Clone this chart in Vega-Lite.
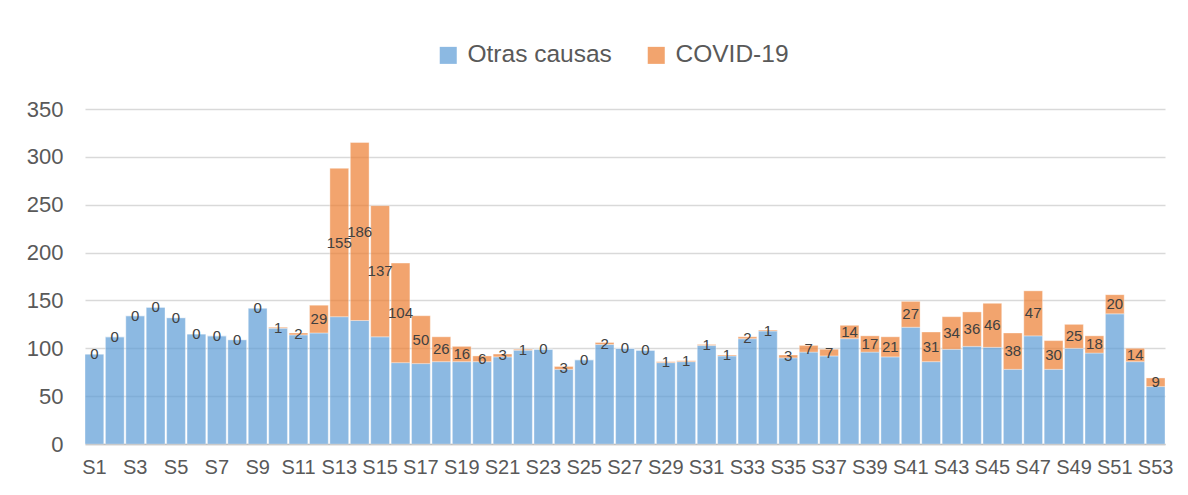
{
  "$schema": "https://vega.github.io/schema/vega-lite/v6.json",
  "width": 1080,
  "height": 335,
  "autosize": {"type": "none"},
  "padding": {"left": 85, "top": 109, "right": 23, "bottom": 51},
  "background": "white",
  "config": {
    "font": "Liberation Sans",
    "view": {"stroke": null},
    "axis": {"labelColor": "#595959", "titleColor": "#595959"}
  },
  "data": {
    "values": [
      {"semana": "S1", "Otras causas": 94, "COVID-19": 0},
      {"semana": "S2", "Otras causas": 112, "COVID-19": 0},
      {"semana": "S3", "Otras causas": 134, "COVID-19": 0},
      {"semana": "S4", "Otras causas": 143, "COVID-19": 0},
      {"semana": "S5", "Otras causas": 132, "COVID-19": 0},
      {"semana": "S6", "Otras causas": 115, "COVID-19": 0},
      {"semana": "S7", "Otras causas": 113, "COVID-19": 0},
      {"semana": "S8", "Otras causas": 109, "COVID-19": 0},
      {"semana": "S9", "Otras causas": 142, "COVID-19": 0},
      {"semana": "S10", "Otras causas": 121, "COVID-19": 1},
      {"semana": "S11", "Otras causas": 114, "COVID-19": 2},
      {"semana": "S12", "Otras causas": 116, "COVID-19": 29},
      {"semana": "S13", "Otras causas": 133, "COVID-19": 155},
      {"semana": "S14", "Otras causas": 129, "COVID-19": 186},
      {"semana": "S15", "Otras causas": 112, "COVID-19": 137},
      {"semana": "S16", "Otras causas": 85, "COVID-19": 104},
      {"semana": "S17", "Otras causas": 84, "COVID-19": 50},
      {"semana": "S18", "Otras causas": 86, "COVID-19": 26},
      {"semana": "S19", "Otras causas": 86, "COVID-19": 16},
      {"semana": "S20", "Otras causas": 86, "COVID-19": 6},
      {"semana": "S21", "Otras causas": 91, "COVID-19": 3},
      {"semana": "S22", "Otras causas": 98, "COVID-19": 1},
      {"semana": "S23", "Otras causas": 99, "COVID-19": 0},
      {"semana": "S24", "Otras causas": 78, "COVID-19": 3},
      {"semana": "S25", "Otras causas": 88, "COVID-19": 0},
      {"semana": "S26", "Otras causas": 104, "COVID-19": 2},
      {"semana": "S27", "Otras causas": 100, "COVID-19": 0},
      {"semana": "S28", "Otras causas": 98, "COVID-19": 0},
      {"semana": "S29", "Otras causas": 85, "COVID-19": 1},
      {"semana": "S30", "Otras causas": 86, "COVID-19": 1},
      {"semana": "S31", "Otras causas": 103, "COVID-19": 1},
      {"semana": "S32", "Otras causas": 92, "COVID-19": 1},
      {"semana": "S33", "Otras causas": 110, "COVID-19": 2},
      {"semana": "S34", "Otras causas": 118, "COVID-19": 1},
      {"semana": "S35", "Otras causas": 90, "COVID-19": 3},
      {"semana": "S36", "Otras causas": 96, "COVID-19": 7},
      {"semana": "S37", "Otras causas": 92, "COVID-19": 7},
      {"semana": "S38", "Otras causas": 110, "COVID-19": 14},
      {"semana": "S39", "Otras causas": 96, "COVID-19": 17},
      {"semana": "S40", "Otras causas": 91, "COVID-19": 21},
      {"semana": "S41", "Otras causas": 122, "COVID-19": 27},
      {"semana": "S42", "Otras causas": 86, "COVID-19": 31},
      {"semana": "S43", "Otras causas": 99, "COVID-19": 34},
      {"semana": "S44", "Otras causas": 102, "COVID-19": 36},
      {"semana": "S45", "Otras causas": 101, "COVID-19": 46},
      {"semana": "S46", "Otras causas": 78, "COVID-19": 38},
      {"semana": "S47", "Otras causas": 113, "COVID-19": 47},
      {"semana": "S48", "Otras causas": 78, "COVID-19": 30},
      {"semana": "S49", "Otras causas": 100, "COVID-19": 25},
      {"semana": "S50", "Otras causas": 95, "COVID-19": 18},
      {"semana": "S51", "Otras causas": 136, "COVID-19": 20},
      {"semana": "S52", "Otras causas": 86, "COVID-19": 14},
      {"semana": "S53", "Otras causas": 60, "COVID-19": 9}
    ]
  },
  "encoding": {
    "x": {
      "field": "semana",
      "type": "nominal",
      "sort": null,
      "scale": {"paddingInner": 0.08, "paddingOuter": 0},
      "axis": {
        "title": null,
        "labelAngle": 0,
        "labelFontSize": 20,
        "labelPadding": 13,
        "ticks": false,
        "domainColor": "#BFBFBF",
        "domainWidth": 1.5,
        "values": ["S1","S3","S5","S7","S9","S11","S13","S15","S17","S19","S21","S23","S25","S27","S29","S31","S33","S35","S37","S39","S41","S43","S45","S47","S49","S51","S53"]
      }
    }
  },
  "layer": [
    {
      "transform": [{"fold": ["Otras causas", "COVID-19"], "as": ["serie", "valor"]}],
      "mark": {"type": "bar", "fillOpacity": 0.7, "stroke": "white", "strokeWidth": 0.6, "strokeOpacity": 0.6},
      "encoding": {
        "y": {
          "field": "valor",
          "type": "quantitative",
          "stack": "zero",
          "scale": {"domain": [0, 350], "nice": false},
          "axis": {
            "title": null,
            "values": [0, 50, 100, 150, 200, 250, 300, 350],
            "domain": false,
            "ticks": false,
            "gridColor": "#D9D9D9",
            "gridWidth": 1.3,
            "labelFontSize": 22,
            "labelPadding": 22
          }
        },
        "color": {
          "field": "serie",
          "type": "nominal",
          "sort": ["Otras causas", "COVID-19"],
          "scale": {"domain": ["Otras causas", "COVID-19"], "range": ["#5B9BD5", "#ED7D31"]},
          "legend": {
            "title": null,
            "orient": "none",
            "legendX": 351,
            "legendY": -66,
            "direction": "horizontal",
            "symbolType": "square",
            "symbolSize": 290,
            "symbolOpacity": 0.7,
            "symbolStrokeWidth": 0,
            "labelFontSize": 24.5,
            "labelColor": "#595959",
            "labelOffset": 7,
            "columnPadding": 32
          }
        },
        "order": {"field": "serie", "sort": "descending"}
      }
    },
    {
      "transform": [{"calculate": "datum['Otras causas'] + datum['COVID-19'] / 2", "as": "medio"}],
      "mark": {"type": "text", "fontSize": 15, "color": "#404040", "baseline": "middle", "align": "center"},
      "encoding": {
        "y": {"field": "medio", "type": "quantitative"},
        "text": {"field": "COVID-19", "type": "quantitative"}
      }
    }
  ]
}
